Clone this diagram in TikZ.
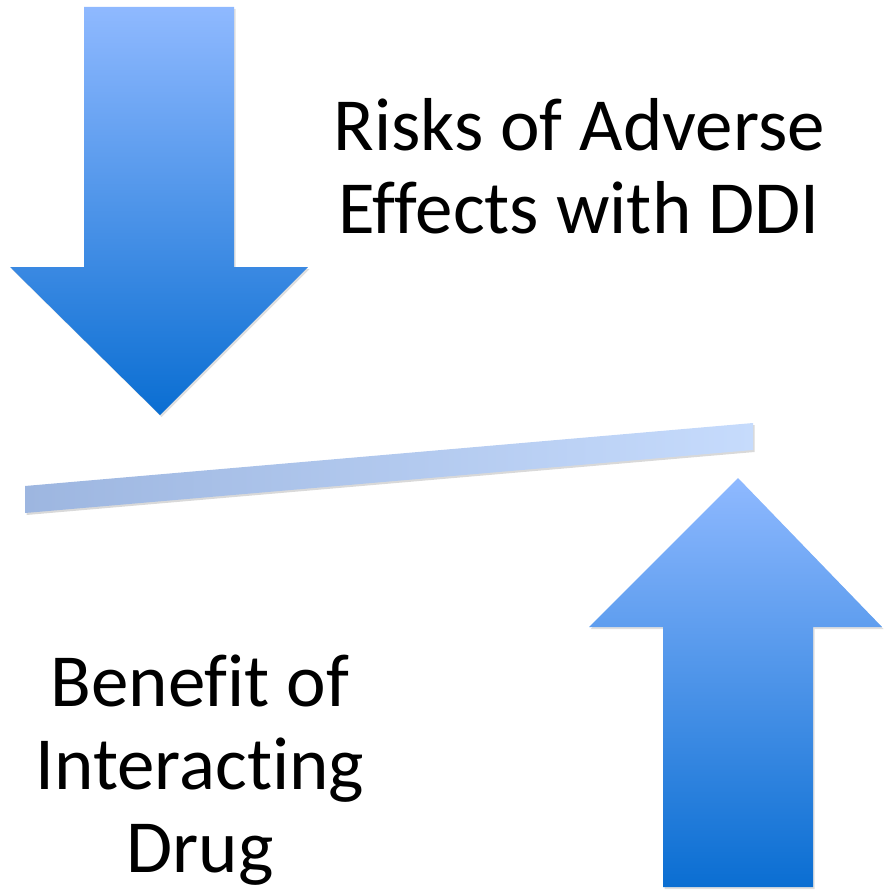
\documentclass[tikz,border=0pt]{standalone}
\usepackage{fontspec}
\setmainfont{Carlito}[Ligatures={NoCommon,NoRare,NoContextual}]
\usetikzlibrary{shadows}
\definecolor{arrowLight}{HTML}{8FB9FF}
\definecolor{arrowDark}{HTML}{0A6ED2}
\definecolor{barLight}{HTML}{C6DBFC}
\definecolor{barDark}{HTML}{9DB6E0}

\begin{document}
\begin{tikzpicture}[x=1pt, y=-1pt, line join=miter,
    bigarrow/.style={draw=none, drop shadow={shadow xshift=1.5pt, shadow yshift=-2pt, opacity=0.25}},
    balance/.style={draw=none, left color=barDark, right color=barLight, drop shadow={shadow xshift=1.5pt, shadow yshift=-2pt, opacity=0.3}},
    bigtext/.style={align=center, inner sep=0pt, font=\fontsize{75}{83}\selectfont}]

    % Fix the page to the reference size
    \useasboundingbox (0,0) rectangle (883,891);

    % Down arrow (risks)
    \path[bigarrow, top color=arrowLight, bottom color=arrowDark]
        (84,7) -- (234,7) -- (234,267) -- (308,267) -- (160,415) -- (10,267) -- (84,267) -- cycle;

    % Tilted balance bar
    \path[balance] (25,486) -- (753,423) -- (753,450) -- (25,513) -- cycle;

    % Up arrow (benefit)
    \path[bigarrow, top color=arrowLight, bottom color=arrowDark]
        (738,478) -- (882,627) -- (813,627) -- (813,887) -- (663,887) -- (663,627) -- (589,627) -- cycle;

    % Labels
    \node[bigtext] (risks) at (579,166) {Risks of Adverse\\Effects with DDI};
    \node[bigtext] (benefit) at (200,770) {Benefit of\\Interacting\\Drug};
\end{tikzpicture}
\end{document}
